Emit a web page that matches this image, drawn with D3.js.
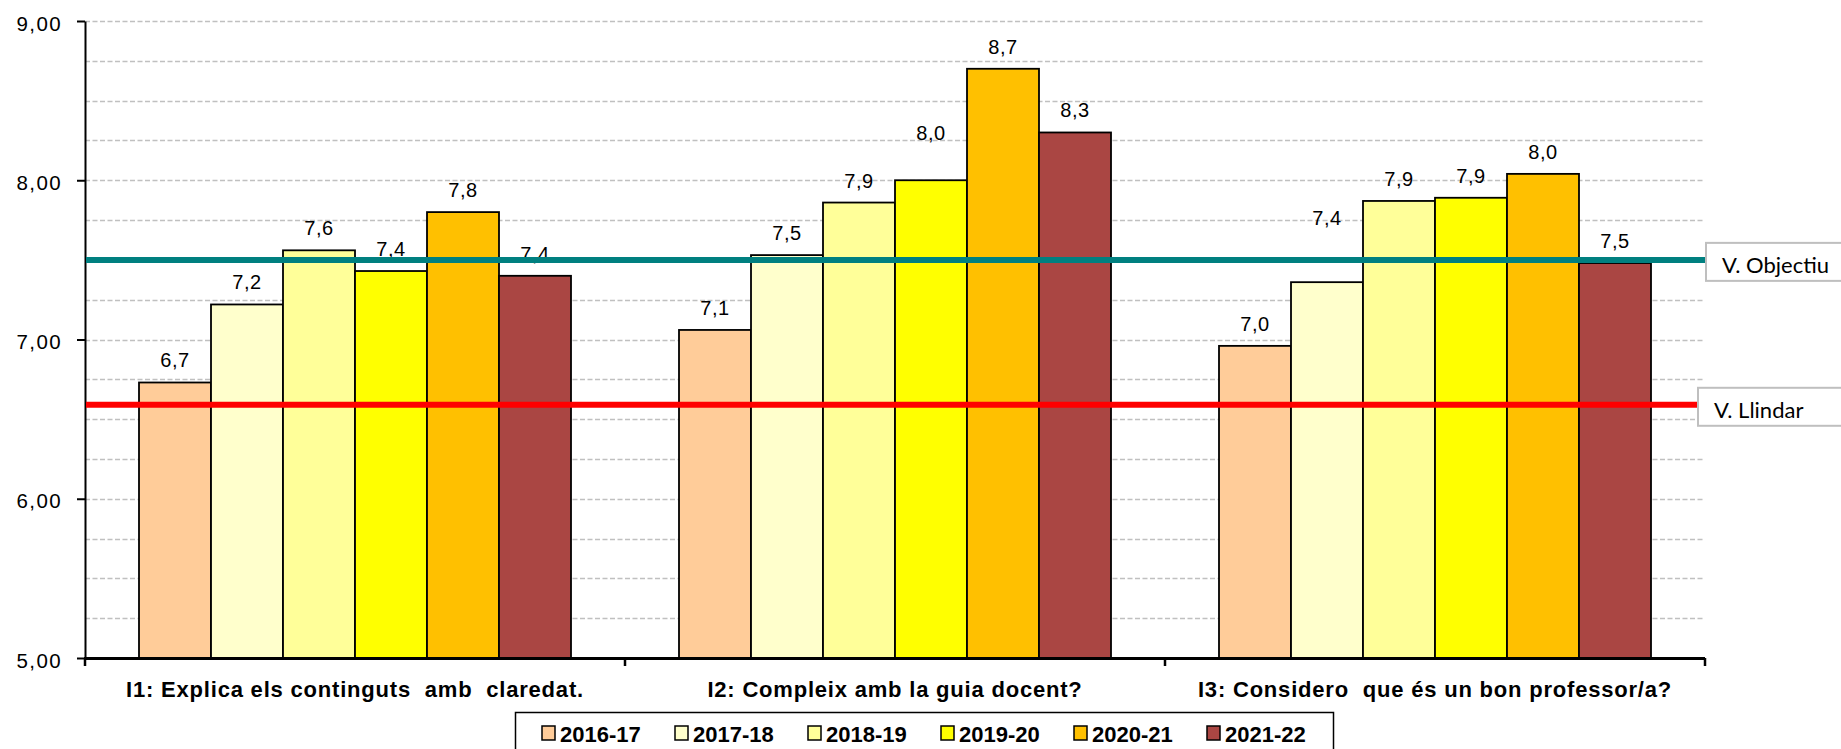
<!DOCTYPE html>
<html>
<head>
<meta charset="utf-8">
<title>Satisfacció amb el professorat</title>
<script src="https://cdnjs.cloudflare.com/ajax/libs/d3/7.8.5/d3.min.js"></script>
<style>
body {
  margin: 0;
  background: #ffffff;
}
svg {
  display: block;
}
text {
  font-family: "Liberation Sans", Arial, sans-serif;
  fill: #000;
}
.grid line {
  stroke: #c0c0c0;
  stroke-width: 1.5px;
  stroke-dasharray: 5,2.5;
}
.bar {
  stroke: #000;
  stroke-width: 1.8px;
}
.val {
  font-size: 20px;
  text-anchor: middle;
  letter-spacing: 0.5px;
}
.cat {
  font-size: 22px;
  font-weight: bold;
  text-anchor: middle;
  letter-spacing: 0.8px;
  white-space: pre;
}
.leg text {
  font-size: 22px;
  font-weight: bold;
}
.refbox text {
  font-family: Lato, "Open Sans", sans-serif;
  font-size: 22px;
}
</style>
</head>
<body>
<script>
// chart values
var categories = [
  "I1: Explica els continguts  amb  claredat.",
  "I2: Compleix amb la guia docent?",
  "I3: Considero  que és un bon professor/a?"
];
var seasons = ["2016-17", "2017-18", "2018-19", "2019-20", "2020-21", "2021-22"];
var s2016_17 = [6.73, 7.06, 6.96];
var s2017_18 = [7.22, 7.53, 7.36];
var s2018_19 = [7.56, 7.86, 7.87];
var s2019_20 = [7.43, 8.00, 7.89];
var s2020_21 = [7.80, 8.70, 8.04];
var s2021_22 = [7.40, 8.30, 7.48];
var yTicks = [5, 6, 7, 8, 9];
var refNames = ["V. Objectiu", "V. Llindar"];
var refValues = [7.5, 6.59];

drawChart();

function drawChart() {
  var seriesValues = [s2016_17, s2017_18, s2018_19, s2019_20, s2020_21, s2021_22];
  var colors = ["#FFCC99", "#FFFFCC", "#FFFF99", "#FFFF00", "#FFC000", "#AA4643"];
  var refColors = ["#008080", "#FF0000"];

  // a couple of labels were moved up by hand in the original
  var labelNudge = { "1-3": 25, "2-1": 42 };

  var width = 1841, height = 749;
  var pLeft = 85, pRight = 1705, pTop = 21, pBottom = 658;

  var svg = d3.select("body").append("svg")
    .attr("width", width)
    .attr("height", height);

  var y = d3.scaleLinear().domain([5, 9]).range([pBottom, pTop]);

  var x0 = d3.scaleBand()
    .domain(categories)
    .range([pLeft, pRight])
    .paddingInner(0.2)
    .paddingOuter(0.1);

  var x1 = d3.scaleBand()
    .domain(seasons)
    .range([0, x0.bandwidth()]);

  var fmt = d3.formatLocale({decimal: ",", thousands: ".", grouping: [3], currency: ["", "€"]});
  var fmtVal = fmt.format(".1f"),
    fmtTick = fmt.format(".2f");

  // dashed gridlines every quarter point
  svg.append("g")
    .attr("class", "grid")
    .selectAll("line")
    .data(d3.range(5.25, 9.01, 0.25))
    .enter().append("line")
      .attr("x1", pLeft)
      .attr("x2", pRight - 2)
      .attr("y1", function(d) { return Math.round(y(d)) + 0.5; })
      .attr("y2", function(d) { return Math.round(y(d)) + 0.5; });

  // bars
  var rows = [];
  categories.forEach(function(c, ci) {
    seasons.forEach(function(s, si) {
      rows.push({cat: c, ci: ci, season: s, si: si, value: seriesValues[si][ci]});
    });
  });

  var bars = svg.append("g");
  bars.selectAll("rect")
    .data(rows)
    .enter().append("rect")
      .attr("class", "bar")
      .attr("x", function(d) { return x0(d.cat) + x1(d.season); })
      .attr("width", x1.bandwidth())
      .attr("y", function(d) { return y(d.value); })
      .attr("height", function(d) { return y(5) - y(d.value); })
      .style("fill", function(d) { return colors[d.si]; });

  bars.selectAll("text")
    .data(rows)
    .enter().append("text")
      .attr("class", "val")
      .attr("x", function(d) { return x0(d.cat) + x1(d.season) + x1.bandwidth() / 2; })
      .attr("y", function(d) {
        var extra = labelNudge[d.ci + "-" + d.si] || 0;
        return y(d.value) - 15 - extra;
      })
      .text(function(d) { return fmtVal(d.value); });

  // y axis
  var yAxis = svg.append("g")
    .attr("transform", "translate(" + pLeft + ",0)")
    .call(d3.axisLeft(y)
      .tickValues(yTicks)
      .tickSize(8)
      .tickSizeOuter(0)
      .tickPadding(15)
      .tickFormat(fmtTick));
  yAxis.select(".domain").attr("stroke", "#000").attr("stroke-width", 2);
  yAxis.selectAll(".tick line").attr("stroke", "#000").attr("stroke-width", 2);
  yAxis.selectAll(".tick text")
    .attr("dy", "0.45em")
    .style("font-size", "20.5px")
    .style("letter-spacing", "1.4px")
    .style("font-family", "'Liberation Sans', Arial, sans-serif");

  // x axis: baseline and ticks between categories
  var bounds = categories.map(function(c) { return x0(c) - x0.step() * x0.paddingOuter(); });
  bounds.push(pRight);
  svg.append("line")
    .attr("x1", pLeft - 1).attr("x2", pRight)
    .attr("y1", pBottom + 0.5).attr("y2", pBottom + 0.5)
    .attr("stroke", "#000").attr("stroke-width", 3);
  svg.append("g").selectAll("line")
    .data(bounds)
    .enter().append("line")
      .attr("x1", function(d) { return d; })
      .attr("x2", function(d) { return d; })
      .attr("y1", pBottom)
      .attr("y2", pBottom + 8)
      .attr("stroke", "#000")
      .attr("stroke-width", 2.5);

  svg.append("g").selectAll("text")
    .data(categories)
    .enter().append("text")
      .attr("class", "cat")
      .attr("x", function(d) { return x0(d) + x0.bandwidth() / 2; })
      .attr("y", 697)
      .text(function(d) { return d; });

  // reference lines with their boxed labels
  var refs = refNames.map(function(n, i) { return {name: n, value: refValues[i], color: refColors[i]}; });
  var boxX = [1706, 1698];

  svg.append("g").selectAll("line")
    .data(refs)
    .enter().append("line")
      .attr("x1", pLeft + 1)
      .attr("x2", function(d, i) { return boxX[i]; })
      .attr("y1", function(d) { return y(d.value); })
      .attr("y2", function(d) { return y(d.value); })
      .attr("stroke", function(d) { return d.color; })
      .attr("stroke-width", 6);

  var rb = svg.append("g").attr("class", "refbox")
    .selectAll("g")
    .data(refs)
    .enter().append("g")
      .attr("transform", function(d, i) { return "translate(" + boxX[i] + "," + (y(d.value) - 17) + ")"; });
  rb.append("rect")
    .attr("width", 160)
    .attr("height", 38)
    .attr("fill", "#fff")
    .attr("stroke", "#bfbfbf")
    .attr("stroke-width", 2);
  rb.append("text")
    .attr("x", function(d, i) { return i === 0 ? 16 : 16; })
    .attr("y", 30)
    .text(function(d) { return d.name; });

  // legend
  var leg = svg.append("g").attr("class", "leg");
  leg.append("rect")
    .attr("x", 515.5).attr("y", 712.5)
    .attr("width", 818).attr("height", 60)
    .attr("fill", "#fff")
    .attr("stroke", "#000")
    .attr("stroke-width", 1.5);
  var item = leg.selectAll(".item")
    .data(seasons)
    .enter().append("g")
      .attr("class", "item")
      .attr("transform", function(d, i) { return "translate(" + (542 + i * 133) + ",726)"; });
  item.append("rect")
    .attr("width", 13).attr("height", 14)
    .attr("fill", function(d, i) { return colors[i]; })
    .attr("stroke", "#000")
    .attr("stroke-width", 1.5);
  item.append("text")
    .attr("x", 18)
    .attr("y", 16)
    .text(function(d) { return d; });
}
</script>
</body>
</html>
